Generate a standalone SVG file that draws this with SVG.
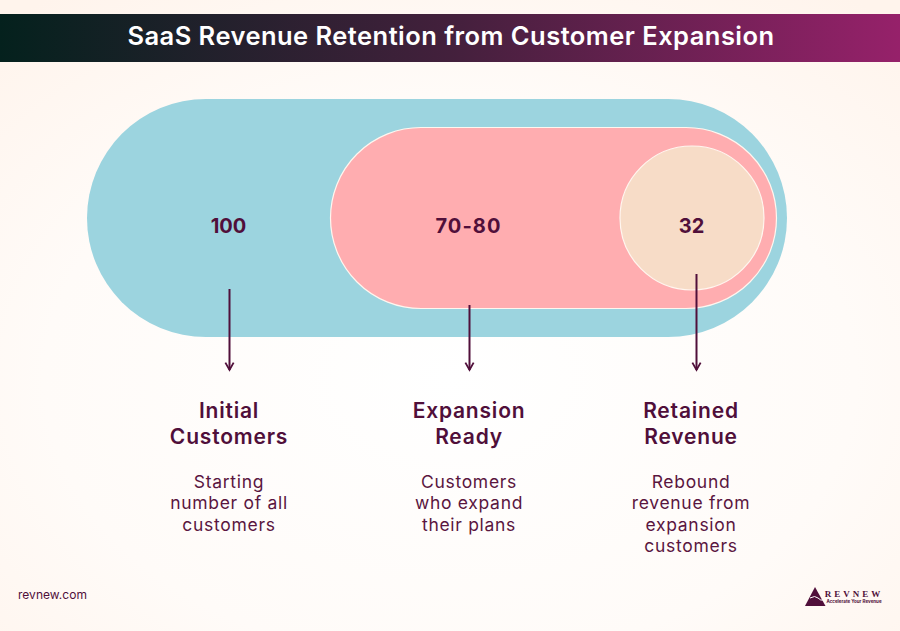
<svg xmlns="http://www.w3.org/2000/svg" width="900" height="631" viewBox="0 0 900 631">
<defs>
<linearGradient id="bar" x1="0" x2="1" y1="0" y2="0"><stop offset="0" stop-color="#04211d"/><stop offset="0.5" stop-color="#43203c"/><stop offset="1" stop-color="#96216a"/></linearGradient>
<radialGradient id="bg" cx="0.5" cy="0.6" r="0.75"><stop offset="0" stop-color="#ffffff"/><stop offset="0.6" stop-color="#fffbf8"/><stop offset="1" stop-color="#fff4ec"/></radialGradient>
<marker id="arr" viewBox="0 0 12 12" refX="10" refY="6" markerWidth="11" markerHeight="11" markerUnits="userSpaceOnUse" orient="auto"><path d="M2 1.5L10 6L2 10.500" fill="none" stroke="#500f3a" stroke-width="2"/></marker>
</defs>
<style>
text{font-family:"Inter","Liberation Sans",sans-serif;text-anchor:middle;fill:#500f3a}
.num{font-size:20px;font-weight:700}
.h{font-size:21px;font-weight:600;letter-spacing:.8px}
.d{font-size:17.500px;font-weight:400;fill:#5a163f;letter-spacing:.7px}
.c{fill:none;stroke:#500f3a;stroke-width:2;marker-end:url(#arr)}
</style>
<rect width="900" height="631" fill="url(#bg)"/>
<g id="title"><rect y="14" width="900" height="48" fill="url(#bar)"/>
<text x="451" y="45" style="fill:#fff;font-size:25.500px;font-weight:600;letter-spacing:.46px">SaaS Revenue Retention from Customer Expansion</text></g>
<g id="node-initial"><rect x="87" y="99" width="700" height="238" rx="119" fill="#9cd4df"/>
<text class="num" x="228.500" y="233">100</text></g>
<g id="node-expansion"><rect x="330.500" y="127.500" width="446" height="181" rx="90.500" fill="#ffadb0" stroke="#fff6ef" stroke-width="1.200"/>
<text class="num" x="468.500" y="233" style="letter-spacing:1.100px">70-80</text></g>
<g id="node-retained"><circle cx="692" cy="218" r="72" fill="#f7dcc7" stroke="#fff6ef" stroke-width="1.200"/>
<text class="num" x="691.500" y="233">32</text></g>
<g id="connectors">
<path class="c" d="M229.500 289V370"/>
<path class="c" d="M469.500 305V370"/>
<path class="c" d="M696.500 274V370"/>
</g>
<g id="label-initial"><text class="h" x="229" y="418">Initial</text><text class="h" x="229" y="444">Customers</text>
<text class="d" x="229" y="488">Starting</text><text class="d" x="229" y="509">number of all</text><text class="d" x="229" y="531">customers</text></g>
<g id="label-expansion"><text class="h" x="469" y="418">Expansion</text><text class="h" x="469" y="444">Ready</text>
<text class="d" x="469" y="488">Customers</text><text class="d" x="469" y="509">who expand</text><text class="d" x="469" y="531">their plans</text></g>
<g id="label-retained"><text class="h" x="691" y="418">Retained</text><text class="h" x="691" y="444">Revenue</text>
<text class="d" x="691" y="488">Rebound</text><text class="d" x="691" y="509">revenue from</text><text class="d" x="691" y="531">expansion</text><text class="d" x="691" y="552">customers</text></g>
<g id="footer"><text x="52.500" y="599" style="font-size:12px;letter-spacing:.05px">revnew.com</text>
<path d="M805 606L815 587L825.500 606Z" fill="#500f3a"/><path d="M810 598Q815 595 818 598T823 600" fill="none" stroke="#fff" stroke-width="1"/>
<text x="854" y="597" style="font-family:'Liberation Serif',serif;font-size:9px;font-weight:700;letter-spacing:3px">REVNEW</text>
<text x="854" y="603" style="font-size:4.500px;font-weight:700">Accelerate Your Revenue</text></g>
</svg>
